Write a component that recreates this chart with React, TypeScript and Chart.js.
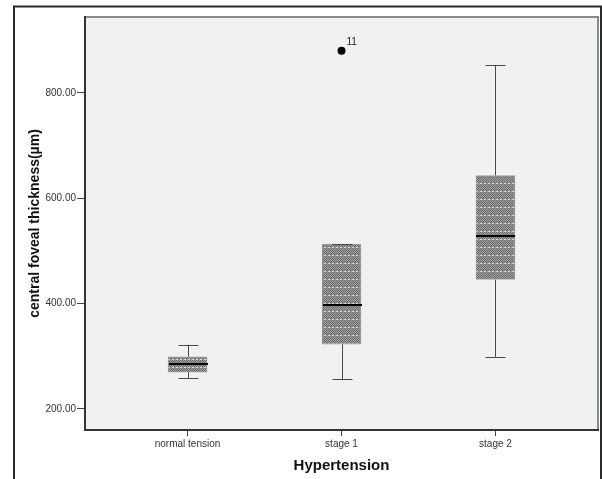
import React, { useEffect, useRef } from 'react';
import { Chart, registerables } from 'chart.js';

Chart.register(...registerables);

const categories = ['normal tension', 'stage 1', 'stage 2'];
const whiskerLow = [258, 256, 299];
const q1 = [270, 323, 446];
const median = [285, 397, 528];
const q3 = [299, 513, 643];
const whiskerHigh = [322, 513, 853];
const outlierCategory = [1];
const outlierValues = [880];
const outlierLabels = ['11'];
const yTicks = [200, 400, 600, 800];
const yMin = 160;
const yMax = 944;
const xPad = 0.666;

function makePattern(ctx: CanvasRenderingContext2D) {
  const c = document.createElement('canvas');
  c.width = 4;
  c.height = 8;
  const p = c.getContext('2d')!;
  for (let y = 0; y < 8; y++) {
    for (let x = 0; x < 4; x++) {
      let color = (x + y) % 2 === 0 ? '#6e6e6e' : '#9c9c9c';
      if (y === 7) color = x < 2 ? '#dcdcdc' : '#8a8a8a';
      p.fillStyle = color;
      p.fillRect(x, y, 1, 1);
    }
  }
  return ctx.createPattern(c, 'repeat')!;
}

const decor = {
  id: 'boxDecor',
  beforeDraw(chart: any) {
    const { ctx, chartArea: a } = chart;
    ctx.save();
    ctx.fillStyle = '#ffffff';
    ctx.fillRect(0, 0, chart.width, chart.height);
    ctx.strokeStyle = '#2b2b2b';
    ctx.lineWidth = 2;
    ctx.strokeRect(14, 6.5, 587, 600);
    ctx.fillStyle = '#f0f1f1';
    ctx.fillRect(a.left, a.top, a.right - a.left, a.bottom - a.top);
    ctx.restore();
  },
  beforeDatasetsDraw(chart: any) {
    const { ctx } = chart;
    const xs = chart.scales.x;
    const ys = chart.scales.y;
    ctx.save();
    ctx.strokeStyle = '#4a4a4a';
    ctx.lineWidth = 1;
    categories.forEach((_, i) => {
      const cx = Math.round(xs.getPixelForValue(i)) + 0.5;
      ctx.beginPath();
      ctx.moveTo(cx, ys.getPixelForValue(whiskerHigh[i]));
      ctx.lineTo(cx, ys.getPixelForValue(q3[i]));
      ctx.moveTo(cx, ys.getPixelForValue(q1[i]));
      ctx.lineTo(cx, ys.getPixelForValue(whiskerLow[i]));
      ctx.stroke();
    });
    ctx.restore();
  },
  afterDatasetsDraw(chart: any) {
    const { ctx, chartArea: a } = chart;
    const xs = chart.scales.x;
    const ys = chart.scales.y;
    ctx.save();
    categories.forEach((_, i) => {
      const cx = Math.round(xs.getPixelForValue(i)) + 0.5;
      ctx.strokeStyle = '#4a4a4a';
      ctx.lineWidth = 1;
      ctx.beginPath();
      const yh = Math.round(ys.getPixelForValue(whiskerHigh[i])) + 0.5;
      const yl = Math.round(ys.getPixelForValue(whiskerLow[i])) + 0.5;
      ctx.moveTo(cx - 10, yh);
      ctx.lineTo(cx + 10, yh);
      ctx.moveTo(cx - 10, yl);
      ctx.lineTo(cx + 10, yl);
      ctx.stroke();
      ctx.strokeStyle = '#000000';
      ctx.lineWidth = 2;
      ctx.beginPath();
      const ym = Math.round(ys.getPixelForValue(median[i]));
      ctx.moveTo(cx - 19.5, ym);
      ctx.lineTo(cx + 19.5, ym);
      ctx.stroke();
    });
    ctx.fillStyle = '#222222';
    ctx.font = '10px "Liberation Sans", Arial, sans-serif';
    ctx.textAlign = 'left';
    ctx.textBaseline = 'alphabetic';
    outlierCategory.forEach((c, k) => {
      const px = xs.getPixelForValue(c);
      const py = ys.getPixelForValue(outlierValues[k]);
      ctx.fillText(outlierLabels[k], px + 5, py - 6);
    });
    // plot frame
    ctx.lineWidth = 2;
    ctx.strokeStyle = '#8a8a8a';
    ctx.beginPath();
    ctx.moveTo(a.left, a.top);
    ctx.lineTo(a.right, a.top);
    ctx.lineTo(a.right, a.bottom);
    ctx.stroke();
    ctx.strokeStyle = '#333333';
    ctx.beginPath();
    ctx.moveTo(a.left, a.top - 1);
    ctx.lineTo(a.left, a.bottom);
    ctx.lineTo(a.right + 1, a.bottom);
    ctx.stroke();
    ctx.restore();
  },
};

export default function App() {
  const ref = useRef<HTMLCanvasElement>(null);
  useEffect(() => {
    const canvas = ref.current!;
    const ctx = canvas.getContext('2d')!;
    const pattern = makePattern(ctx);
    Chart.defaults.font.family = '"Liberation Sans", Arial, sans-serif';
    const chart = new Chart(canvas, {
      type: 'bar',
      data: {
        datasets: [
          {
            type: 'bar',
            data: categories.map((_, i) => ({ x: i, y: [q1[i], q3[i]] })) as any,
            backgroundColor: pattern as any,
            borderColor: '#a0a0a0',
            borderWidth: 1,
            borderSkipped: false,
            barThickness: 39,
          } as any,
          {
            type: 'scatter',
            data: outlierCategory.map((c, k) => ({ x: c, y: outlierValues[k] })),
            pointRadius: 4,
            pointBackgroundColor: '#000000',
            pointBorderWidth: 0,
            pointBorderColor: '#000000',
          } as any,
        ],
      },
      options: {
        animation: false,
        responsive: false,
        events: [],
        layout: { padding: { top: 17, right: 4, left: 0, bottom: 0 } },
        plugins: { legend: { display: false }, tooltip: { enabled: false } },
        scales: {
          x: {
            type: 'linear',
            offset: false,
            min: -xPad,
            max: categories.length - 1 + xPad,
            afterBuildTicks: (s: any) => {
              s.ticks = categories.map((_, i) => ({ value: i }));
            },
            afterFit: (s: any) => {
              s.height = 49;
            },
            ticks: {
              autoSkip: false,
              maxRotation: 0,
              padding: 2,
              color: '#333333',
              font: { size: 10 },
              callback: (v: any) => categories[Math.round(Number(v))] ?? '',
            },
            grid: { offset: false, drawOnChartArea: false, tickLength: 6, color: '#444444' },
            border: { display: false },
            title: {
              display: true,
              text: 'Hypertension',
              color: '#111111',
              font: { size: 15, weight: 'bold' },
              padding: { top: 0, bottom: 4 },
            },
          },
          y: {
            type: 'linear',
            min: yMin,
            max: yMax,
            afterBuildTicks: (s: any) => {
              s.ticks = yTicks.map((v) => ({ value: v }));
            },
            afterFit: (s: any) => {
              s.width = 85;
            },
            ticks: {
              padding: 1,
              color: '#333333',
              font: { size: 10 },
              callback: (v: any) => Number(v).toFixed(2),
            },
            grid: { drawOnChartArea: false, tickLength: 8, color: '#444444' },
            border: { display: false },
            title: {
              display: true,
              text: 'central foveal thickness(µm)',
              color: '#111111',
              font: { size: 14, weight: 'bold' },
              padding: { top: 27, bottom: 0 },
            },
          },
        },
      } as any,
      plugins: [decor],
    });
    return () => chart.destroy();
  }, []);
  return (
    <div style={{ position: 'absolute', left: 0, top: 0, width: 602, height: 479 }}>
      <canvas ref={ref} width={602} height={479} style={{ display: 'block' }} />
    </div>
  );
}
